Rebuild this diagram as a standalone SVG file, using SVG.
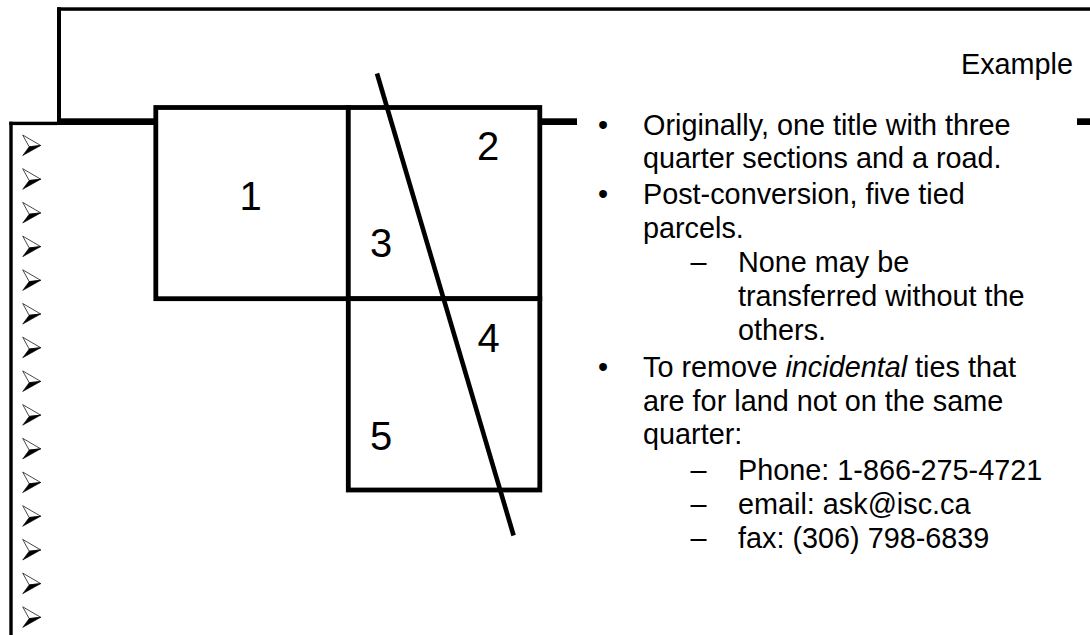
<svg xmlns="http://www.w3.org/2000/svg" width="1090" height="635" viewBox="0 0 1090 635">
<style>
.frame{fill:#000}
.parcel{fill:#fff;stroke:#000;stroke-width:4.8}
.road{stroke:#000;stroke-width:4.6;fill:none}
.num{font-family:"Liberation Sans",Arial,sans-serif;font-size:40px;fill:#000}
.txt{font-family:"Liberation Sans",Arial,sans-serif;font-size:28.8px;fill:#000}
</style>
<defs>
<g id="ab">
<polygon points="-9,-10.3 9,0.2 -2.5,1.5" fill="#fff" stroke="#333" stroke-width="0.9" stroke-linejoin="miter"/>
<polygon points="-2.5,1.5 9,0.2 -9,10.3" fill="#000" stroke="#000" stroke-width="0.6"/>
</g>
</defs>
<rect width="1090" height="635" fill="#fff"/>
<g id="title-frame">
<rect class="frame" x="57" y="7.3" width="1033" height="3.5"/>
<rect class="frame" x="57" y="7.3" width="4" height="117.7"/>
<rect class="frame" x="57" y="118.3" width="100" height="6.7"/>
<rect class="frame" x="538" y="118.3" width="39" height="6.7"/>
<rect class="frame" x="1077" y="118.3" width="13" height="6.7"/>
</g>
<g id="content-frame">
<rect class="frame" x="9.3" y="121.7" width="48" height="3.4"/>
<rect class="frame" x="9.3" y="121.7" width="3.4" height="514"/>
</g>
<g id="bullets-left">
<use href="#ab" x="31.7" y="145.3"/>
<use href="#ab" x="31.7" y="179"/>
<use href="#ab" x="31.7" y="212.7"/>
<use href="#ab" x="31.7" y="246.4"/>
<use href="#ab" x="31.7" y="280.1"/>
<use href="#ab" x="31.7" y="313.8"/>
<use href="#ab" x="31.7" y="347.5"/>
<use href="#ab" x="31.7" y="381.2"/>
<use href="#ab" x="31.7" y="414.9"/>
<use href="#ab" x="31.7" y="448.6"/>
<use href="#ab" x="31.7" y="482.3"/>
<use href="#ab" x="31.7" y="516"/>
<use href="#ab" x="31.7" y="549.7"/>
<use href="#ab" x="31.7" y="583.4"/>
<use href="#ab" x="31.7" y="617.1"/>
</g>
<g id="parcel-1">
<rect class="parcel" x="155.8" y="107.5" width="192.5" height="191.2"/>
<text class="num" x="239.6" y="209.5">1</text>
</g>
<g id="quarter-ne">
<rect class="parcel" x="348.3" y="107.5" width="191.5" height="191.2"/>
</g>
<g id="quarter-se">
<rect class="parcel" x="348.3" y="298.7" width="191.5" height="191.3"/>
</g>
<g id="road">
<line class="road" x1="377" y1="73.5" x2="513.6" y2="535.5"/>
</g>
<g id="parcel-labels">
<text class="num" x="477" y="160">2</text>
<text class="num" x="370" y="256.7">3</text>
<text class="num" x="477.5" y="351.7">4</text>
<text class="num" x="370" y="450">5</text>
</g>
<g id="title">
<text class="txt" x="961" y="74">Example</text>
</g>
<g id="notes">
<text class="txt" x="603" y="134.5" text-anchor="middle">•</text>
<text class="txt" x="643" y="134.5">Originally, one title with three</text>
<text class="txt" x="643" y="168">quarter sections and a road.</text>
<text class="txt" x="603" y="204" text-anchor="middle">•</text>
<text class="txt" x="643" y="204">Post-conversion, five tied</text>
<text class="txt" x="643" y="237.5">parcels.</text>
<text class="txt" x="698.5" y="271.5" text-anchor="middle">–</text>
<text class="txt" x="738" y="271.5">None may be</text>
<text class="txt" x="738" y="305.5">transferred without the</text>
<text class="txt" x="738" y="339.5">others.</text>
<text class="txt" x="603" y="377" text-anchor="middle">•</text>
<text class="txt" x="643" y="377">To remove <tspan font-style="italic">incidental</tspan> ties that</text>
<text class="txt" x="643" y="410.5">are for land not on the same</text>
<text class="txt" x="643" y="444">quarter:</text>
<text class="txt" x="698.5" y="480" text-anchor="middle">–</text>
<text class="txt" x="738" y="480">Phone: 1-866-275-4721</text>
<text class="txt" x="698.5" y="514" text-anchor="middle">–</text>
<text class="txt" x="738" y="514">email: ask@isc.ca</text>
<text class="txt" x="698.5" y="548" text-anchor="middle">–</text>
<text class="txt" x="738" y="548">fax: (306) 798-6839</text>
</g>
</svg>
